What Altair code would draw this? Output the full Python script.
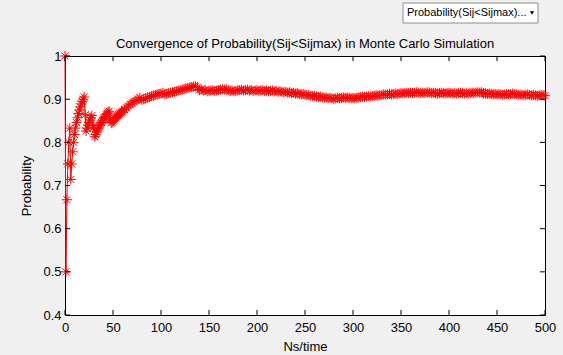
import altair as alt
import pandas as pd

# ---------------- data ----------------
steps = list(range(0, 61)) + list(range(62, 501, 2))

probs_early = [
    1.000, 0.500, 0.667, 0.750, 0.800, 0.833, 0.714, 0.750, 0.778, 0.800,
    0.818, 0.833, 0.846, 0.857, 0.867, 0.875, 0.882, 0.889, 0.895, 0.900,
    0.905, 0.864, 0.826, 0.833, 0.840, 0.846, 0.852, 0.857, 0.862, 0.833,
    0.839, 0.813, 0.818, 0.824, 0.829, 0.833, 0.838, 0.842, 0.846, 0.850,
    0.854, 0.857, 0.860, 0.864, 0.867, 0.870, 0.872, 0.854, 0.845, 0.846,
    0.849, 0.852, 0.855, 0.857, 0.860, 0.862, 0.864, 0.866, 0.868, 0.870,
    0.872,
]
probs_late = [
    0.876, 0.880, 0.884, 0.888, 0.891, 0.894, 0.897, 0.900, 0.903, 0.898,
    0.900, 0.902, 0.904, 0.905, 0.907, 0.908, 0.910, 0.911, 0.912, 0.913,
    0.915, 0.911, 0.912, 0.914, 0.915, 0.916, 0.917, 0.918, 0.920, 0.921,
    0.922, 0.923, 0.925, 0.926, 0.927, 0.928, 0.929, 0.930, 0.928, 0.921,
    0.922, 0.920, 0.921, 0.918, 0.919, 0.920, 0.921, 0.919, 0.920, 0.921,
    0.922, 0.923, 0.922, 0.923, 0.921, 0.919, 0.920, 0.918, 0.919, 0.920,
    0.921, 0.922, 0.920, 0.921, 0.922, 0.920, 0.921, 0.919, 0.920, 0.921,
    0.919, 0.920, 0.921, 0.919, 0.920, 0.918, 0.919, 0.920, 0.918, 0.919,
    0.917, 0.918, 0.917, 0.916, 0.917, 0.915, 0.916, 0.914, 0.915, 0.913,
    0.914, 0.912, 0.911, 0.912, 0.910, 0.909, 0.910, 0.908, 0.907, 0.908,
    0.906, 0.905, 0.906, 0.904, 0.903, 0.904, 0.902, 0.903, 0.902, 0.901,
    0.902, 0.903, 0.902, 0.903, 0.904, 0.903, 0.904, 0.903, 0.902, 0.903,
    0.902, 0.903, 0.904, 0.905, 0.906, 0.905, 0.906, 0.907, 0.906, 0.907,
    0.908, 0.909, 0.908, 0.909, 0.910, 0.911, 0.910, 0.911, 0.912, 0.911,
    0.912, 0.913, 0.912, 0.913, 0.914, 0.913, 0.914, 0.915, 0.914, 0.915,
    0.914, 0.915, 0.916, 0.915, 0.914, 0.915, 0.914, 0.915, 0.916, 0.915,
    0.914, 0.915, 0.914, 0.913, 0.914, 0.915, 0.914, 0.913, 0.914, 0.915,
    0.914, 0.913, 0.914, 0.913, 0.914, 0.915, 0.914, 0.913, 0.914, 0.913,
    0.914, 0.915, 0.914, 0.915, 0.916, 0.915, 0.916, 0.914, 0.913, 0.912,
    0.913, 0.912, 0.911, 0.912, 0.911, 0.912, 0.911, 0.910, 0.911, 0.912,
    0.911, 0.912, 0.913, 0.912, 0.911, 0.910, 0.911, 0.910, 0.909, 0.910,
    0.911, 0.910, 0.909, 0.910, 0.909, 0.908, 0.909, 0.910, 0.909, 0.908,
]
probs = probs_early + probs_late

x_ticks = [0, 50, 100, 150, 200, 250, 300, 350, 400, 450, 500]
y_ticks = [0.4, 0.5, 0.6, 0.7, 0.8, 0.9, 1.0]

title_text = "Convergence of  Probability(Sij<Sijmax) in Monte Carlo Simulation"
x_title = "Ns/time"
y_title = "Probability"
menu_text = "Probability(Sij<Sijmax)..."

# ---------------- chart ----------------
FONT = "Liberation Sans"
W, H = 480, 259

df = pd.DataFrame({"step": steps, "prob": probs})

xscale = alt.Scale(domain=[0, 500], nice=False, zero=False, padding=0)
yscale = alt.Scale(domain=[0.4, 1.0], nice=False, zero=False, padding=0)
x_axis = alt.Axis(values=x_ticks, title=x_title, format="d",
                  labelPadding=6, titlePadding=6, labelFlush=False,
                  labelOverlap=False)
y_axis = alt.Axis(values=y_ticks, title=y_title, format=".1~f",
                  labelPadding=4, titlePadding=9, labelFlush=False,
                  labelOverlap=False)

star = "M-1,0L1,0M0,-1L0,1M-0.7,-0.7L0.7,0.7M-0.7,0.7L0.7,-0.7"

x_enc = alt.X("step:Q", scale=xscale, axis=x_axis, title=x_title)
y_enc = alt.Y("prob:Q", scale=yscale, axis=y_axis, title=y_title)

base = alt.Chart(df)
line = base.mark_line(color="#ff0000", strokeWidth=1).encode(x=x_enc, y=y_enc)
pts = base.mark_point(shape=star, size=100, color="#ff0000", filled=False,
                      strokeWidth=1, opacity=1).encode(x=x_enc, y=y_enc)

xt = alt.Chart(pd.DataFrame({"t": x_ticks}))
yt = alt.Chart(pd.DataFrame({"t": y_ticks}))
tx = alt.X("t:Q", scale=xscale, axis=x_axis, title=x_title)
ty = alt.Y("t:Q", scale=yscale, axis=y_axis, title=y_title)
tick_bottom = xt.mark_rule(color="black", strokeWidth=1).encode(
    x=tx, y=alt.value(H), y2=alt.value(H - 5))
tick_top = xt.mark_rule(color="black", strokeWidth=1).encode(
    x=tx, y=alt.value(0), y2=alt.value(5))
tick_left = yt.mark_rule(color="black", strokeWidth=1).encode(
    y=ty, x=alt.value(0), x2=alt.value(5))
tick_right = yt.mark_rule(color="black", strokeWidth=1).encode(
    y=ty, x=alt.value(W), x2=alt.value(W - 5))

one = alt.Chart(alt.Data(values=[{"a": 1}]))
menu_box = one.mark_rect(fill="white", stroke="#8c8c8c", strokeWidth=1).encode(
    x=alt.value(338), x2=alt.value(473), y=alt.value(-53), y2=alt.value(-33))
menu_label = one.mark_text(align="left", baseline="middle", font=FONT,
                           fontSize=11, color="black").encode(
    x=alt.value(342), y=alt.value(-43), text=alt.value(menu_text))
menu_arrow = one.mark_point(shape="triangle-down", filled=True, color="black",
                            size=18, opacity=1).encode(
    x=alt.value(467), y=alt.value(-43))

chart = alt.layer(
    line, pts, tick_bottom, tick_top, tick_left, tick_right,
    menu_box, menu_label, menu_arrow
).properties(
    width=W, height=H,
    background="#f0f0f0",
    padding={"left": 65, "top": 56, "right": 18, "bottom": 40},
    autosize=alt.AutoSizeParams(type="none"),
    title=alt.TitleParams(text=title_text, font=FONT, fontSize=13,
                          fontWeight="normal", color="black", offset=0,
                          baseline="alphabetic", dy=58,
                          anchor="middle", frame="group"),
).configure_view(
    stroke="black", strokeWidth=1, fill="white"
).configure_axis(
    grid=False, domain=False, ticks=False, tickSize=0,
    labelFont=FONT, labelFontSize=13, labelColor="black",
    titleFont=FONT, titleFontSize=13, titleFontWeight="normal",
    titleColor="black",
)

chart.save("out.html", embed_options={"renderer": "svg", "actions": False})
